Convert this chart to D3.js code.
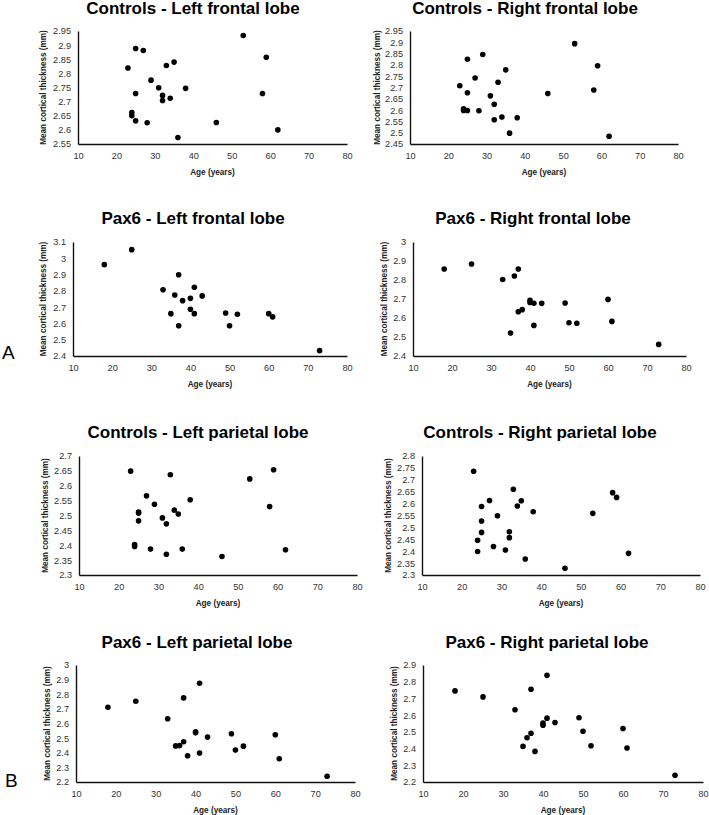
<!DOCTYPE html>
<html><head><meta charset="utf-8">
<script src="https://cdn.jsdelivr.net/npm/d3@7"></script>
<style>body{margin:0;background:#fff}svg{display:block}</style>
</head><body>
<script>
// ---------- Data ----------
const xTickValues = [10, 20, 30, 40, 50, 60, 70, 80];

// Controls - Left frontal lobe
const ctrlLeftFrontalAge = [25, 27, 23, 33, 35, 53, 59, 29, 31, 38, 25, 58, 32, 32, 34, 24, 24, 25, 28, 46, 36, 62];
const ctrlLeftFrontalVal = [2.888, 2.881, 2.819, 2.828, 2.840, 2.934, 2.857, 2.776, 2.749, 2.747, 2.729, 2.729, 2.722, 2.704, 2.712, 2.661, 2.650, 2.632, 2.625, 2.626, 2.573, 2.600];
const ctrlLeftFrontalTicks = [2.55, 2.6, 2.65, 2.7, 2.75, 2.8, 2.85, 2.9, 2.95];

// Controls - Right frontal lobe
const ctrlRightFrontalAge = [53, 29, 25, 59, 35, 27, 33, 23, 58, 25, 46, 31, 32, 24, 24, 25, 28, 32, 34, 38, 36, 62];
const ctrlRightFrontalVal = [2.894, 2.846, 2.825, 2.796, 2.778, 2.742, 2.723, 2.708, 2.689, 2.677, 2.673, 2.663, 2.626, 2.606, 2.598, 2.598, 2.597, 2.557, 2.569, 2.566, 2.498, 2.484];
const ctrlRightFrontalTicks = [2.45, 2.5, 2.55, 2.6, 2.65, 2.7, 2.75, 2.8, 2.85, 2.9, 2.95];

// Pax6 - Left frontal lobe
const pax6LeftFrontalAge = [18, 25, 37, 33, 41, 36, 43, 38, 40, 40, 35, 41, 49, 52, 60, 61, 37, 50, 73];
const pax6LeftFrontalVal = [2.961, 3.053, 2.899, 2.807, 2.822, 2.775, 2.769, 2.740, 2.754, 2.687, 2.660, 2.660, 2.664, 2.656, 2.660, 2.640, 2.586, 2.586, 2.433];
const pax6LeftFrontalTicks = [2.4, 2.5, 2.6, 2.7, 2.8, 2.9, 3, 3.1];

// Pax6 - Right frontal lobe
const pax6RightFrontalAge = [18, 25, 33, 36, 37, 37, 38, 40, 40, 41, 43, 49, 50, 52, 60, 61, 41, 35, 73];
const pax6RightFrontalVal = [2.858, 2.884, 2.803, 2.821, 2.858, 2.633, 2.644, 2.693, 2.682, 2.678, 2.677, 2.679, 2.575, 2.572, 2.698, 2.582, 2.561, 2.521, 2.461];
const pax6RightFrontalTicks = [2.4, 2.5, 2.6, 2.7, 2.8, 2.9, 3];

// Controls - Left parietal lobe
const ctrlLeftParietalAge = [23, 33, 53, 59, 27, 29, 38, 25, 25, 25, 31, 32, 34, 35, 58, 24, 24, 28, 32, 36, 46, 62];
const ctrlLeftParietalVal = [2.649, 2.637, 2.623, 2.654, 2.566, 2.538, 2.553, 2.512, 2.508, 2.482, 2.492, 2.472, 2.518, 2.505, 2.530, 2.402, 2.396, 2.387, 2.370, 2.387, 2.362, 2.385];
const ctrlLeftParietalTicks = [2.3, 2.35, 2.4, 2.45, 2.5, 2.55, 2.6, 2.65, 2.7];

// Controls - Right parietal lobe
const ctrlRightParietalAge = [23, 33, 27, 35, 25, 34, 38, 29, 25, 25, 32, 32, 24, 24, 28, 31, 36, 46, 53, 58, 59, 62];
const ctrlRightParietalVal = [2.736, 2.660, 2.613, 2.612, 2.588, 2.590, 2.566, 2.549, 2.527, 2.479, 2.482, 2.457, 2.446, 2.399, 2.420, 2.405, 2.367, 2.328, 2.559, 2.646, 2.626, 2.391];
const ctrlRightParietalTicks = [2.3, 2.35, 2.4, 2.45, 2.5, 2.55, 2.6, 2.65, 2.7, 2.75, 2.8];

// Pax6 - Left parietal lobe
const pax6LeftParietalAge = [18, 25, 33, 37, 41, 40, 40, 43, 49, 60, 35, 36, 37, 38, 41, 50, 52, 61, 73];
const pax6LeftParietalVal = [2.711, 2.752, 2.632, 2.775, 2.875, 2.543, 2.536, 2.507, 2.530, 2.523, 2.447, 2.449, 2.475, 2.380, 2.398, 2.418, 2.445, 2.359, 2.239];
const pax6LeftParietalTicks = [2.2, 2.3, 2.4, 2.5, 2.6, 2.7, 2.8, 2.9, 3];

// Pax6 - Right parietal lobe
const pax6RightParietalAge = [18, 25, 33, 37, 41, 41, 40, 40, 43, 49, 50, 60, 37, 36, 35, 38, 52, 61, 73];
const pax6RightParietalVal = [2.745, 2.709, 2.632, 2.755, 2.838, 2.582, 2.552, 2.540, 2.556, 2.584, 2.504, 2.520, 2.492, 2.465, 2.413, 2.383, 2.417, 2.403, 2.240];
const pax6RightParietalTicks = [2.2, 2.3, 2.4, 2.5, 2.6, 2.7, 2.8, 2.9];

const titles = [
  "Controls - Left frontal lobe", "Controls - Right frontal lobe",
  "Pax6 - Left frontal lobe", "Pax6 - Right frontal lobe",
  "Controls - Left parietal lobe", "Controls - Right parietal lobe",
  "Pax6 - Left parietal lobe", "Pax6 - Right parietal lobe"
];
const xAxisTitle = "Age (years)";
const yAxisTitle = "Mean cortical thickness (mm)";

// ---------- Layout ----------
const W = 709, H = 815;
const panels = [
  {ages: ctrlLeftFrontalAge, vals: ctrlLeftFrontalVal, ticks: ctrlLeftFrontalTicks, L: 78, R: 347, T: 31, B: 144, tx: 193, ty: 14, yl: 43},
  {ages: ctrlRightFrontalAge, vals: ctrlRightFrontalVal, ticks: ctrlRightFrontalTicks, L: 410, R: 678, T: 31, B: 144, tx: 525, ty: 14, yl: 377},
  {ages: pax6LeftFrontalAge, vals: pax6LeftFrontalVal, ticks: pax6LeftFrontalTicks, L: 73, R: 347, T: 242, B: 356, tx: 193, ty: 224, yl: 43},
  {ages: pax6RightFrontalAge, vals: pax6RightFrontalVal, ticks: pax6RightFrontalTicks, L: 413, R: 686, T: 242, B: 356, tx: 533, ty: 224, yl: 384},
  {ages: ctrlLeftParietalAge, vals: ctrlLeftParietalVal, ticks: ctrlLeftParietalTicks, L: 79, R: 357, T: 456, B: 575, tx: 198, ty: 438, yl: 45},
  {ages: ctrlRightParietalAge, vals: ctrlRightParietalVal, ticks: ctrlRightParietalTicks, L: 422, R: 700, T: 456, B: 575, tx: 540, ty: 438, yl: 388},
  {ages: pax6LeftParietalAge, vals: pax6LeftParietalVal, ticks: pax6LeftParietalTicks, L: 76, R: 355, T: 665, B: 782, tx: 197, ty: 648, yl: 47},
  {ages: pax6RightParietalAge, vals: pax6RightParietalVal, ticks: pax6RightParietalTicks, L: 423, R: 703, T: 665, B: 782, tx: 547, ty: 648, yl: 394}
];

const svg = d3.select("body").append("svg").attr("width", W).attr("height", H)
  .style("font-family", "'Liberation Sans', Arial, sans-serif");

const fmt = d => String(+d.toFixed(2));

panels.forEach((p, i) => {
  const x = d3.scaleLinear().domain([10, 80]).range([p.L, p.R]);
  const y = d3.scaleLinear().domain([p.ticks[0], p.ticks[p.ticks.length - 1]]).range([p.B, p.T]);
  const g = svg.append("g");

  // title
  g.append("text").attr("x", p.tx).attr("y", p.ty).attr("text-anchor", "middle")
    .attr("font-size", 17).attr("font-weight", "bold").attr("fill", "#000").text(titles[i]);

  // y axis
  const ya = g.append("g").attr("transform", `translate(${p.L},0)`)
    .call(d3.axisLeft(y).tickValues(p.ticks).tickFormat(fmt).tickSize(0).tickPadding(7));
  // x axis
  const xa = g.append("g").attr("transform", `translate(0,${p.B})`)
    .call(d3.axisBottom(x).tickValues(xTickValues).tickFormat(d3.format("d")).tickSize(0).tickPadding(8));
  [ya, xa].forEach(a => {
    a.select(".domain").attr("stroke", "#111").attr("stroke-width", 1.4);
    a.selectAll("text").attr("font-size", 9.2).attr("fill", "#333").attr("font-family", "'Liberation Sans', Arial, sans-serif");
  });

  // axis titles
  g.append("text").attr("x", (p.L + p.R) / 2).attr("y", p.B + 31).attr("text-anchor", "middle")
    .attr("font-size", 8.2).attr("font-weight", "bold").attr("fill", "#222").text(xAxisTitle);
  g.append("text").attr("transform", `translate(${p.yl + 3},${(p.T + p.B) / 2}) rotate(-90)`)
    .attr("text-anchor", "middle").attr("font-size", 8.2).attr("font-weight", "bold").attr("fill", "#222").text(yAxisTitle);

  // points
  g.selectAll("circle").data(p.ages.map((a, k) => [a, p.vals[k]])).join("circle")
    .attr("cx", d => x(d[0])).attr("cy", d => y(d[1])).attr("r", 2.8).attr("fill", "#000");
});

// panel letters
svg.append("text").attr("x", 2).attr("y", 359).attr("font-size", 19).attr("fill", "#000").text("A");
svg.append("text").attr("x", 5).attr("y", 787).attr("font-size", 19).attr("fill", "#000").text("B");
</script>
</body></html>
